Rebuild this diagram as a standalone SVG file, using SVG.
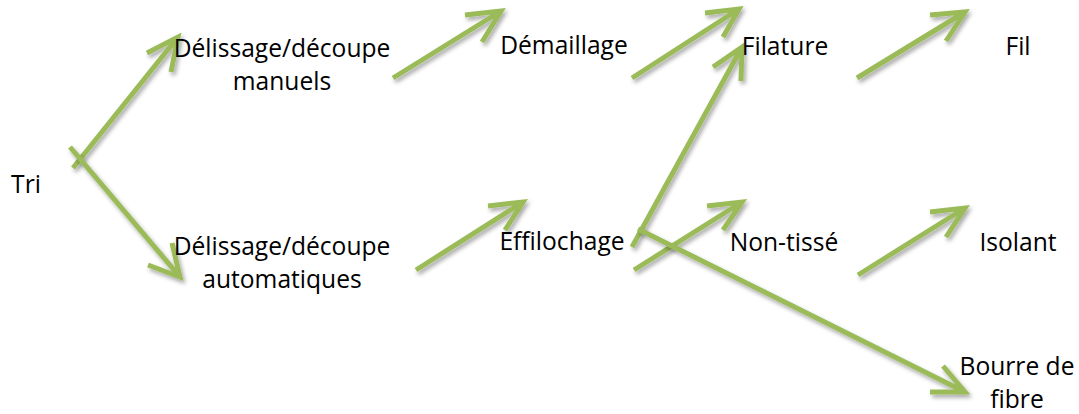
<svg xmlns="http://www.w3.org/2000/svg" width="1079" height="414" viewBox="0 0 1079 414">
<defs>
<filter id="sh" x="-20%" y="-20%" width="140%" height="140%">
<feDropShadow dx="2" dy="3" stdDeviation="2.2" flood-color="#000" flood-opacity="0.35"/>
</filter>
</defs>
<style>
.lbl{font-family:"Open Sans","Liberation Sans",sans-serif;font-size:24.6px;fill:#000;text-anchor:middle}
.arr{fill:none;stroke:#9BBB59;stroke-width:5;stroke-linecap:butt;stroke-linejoin:miter;filter:url(#sh)}
</style>
<rect width="1079" height="414" fill="#fff"/>
<g id="connectors">
<path class="arr" d="M73,168 L178,37 M147,53 L178,37 L171,72"/>
<path class="arr" d="M70,147 L180,277 M148,265 L180,277 L172,243"/>
<path class="arr" d="M393,78 L501,11 M465,15 L501,11 L482,42"/>
<path class="arr" d="M632,78 L739,9 M705,13 L739,9 L723,37"/>
<path class="arr" d="M857,78 L965,12 M930,15 L965,12 L946,41"/>
<path class="arr" d="M416,270 L523,202 M488,206 L523,202 L505,230"/>
<path class="arr" d="M632,247 L742,47 M713,67 L742,47 L741,81"/>
<path class="arr" d="M634,270 L742,202 M707,206 L742,202 L723,230"/>
<path class="arr" d="M858,275 L965,208 M930,212 L965,208 L946,237"/>
<path class="arr" d="M638,229 L965,392 M943,366 L965,392 L930,392"/>
</g>
<g id="n-tri"><text class="lbl" x="26" y="193">Tri</text></g>
<g id="n-manuels"><text class="lbl" x="282" y="57">Délissage/découpe</text><text class="lbl" x="282" y="90">manuels</text></g>
<g id="n-auto"><text class="lbl" x="282" y="255">Délissage/découpe</text><text class="lbl" x="282" y="288">automatiques</text></g>
<g id="n-demaillage"><text class="lbl" x="564" y="54">Démaillage</text></g>
<g id="n-effilochage"><text class="lbl" x="562" y="250">Effilochage</text></g>
<g id="n-filature"><text class="lbl" x="785" y="55">Filature</text></g>
<g id="n-nontisse"><text class="lbl" x="784" y="251">Non-tissé</text></g>
<g id="n-fil"><text class="lbl" x="1018" y="55">Fil</text></g>
<g id="n-isolant"><text class="lbl" x="1018" y="251">Isolant</text></g>
<g id="n-bourre"><text class="lbl" x="1017" y="375">Bourre de</text><text class="lbl" x="1017" y="408">fibre</text></g>
</svg>
